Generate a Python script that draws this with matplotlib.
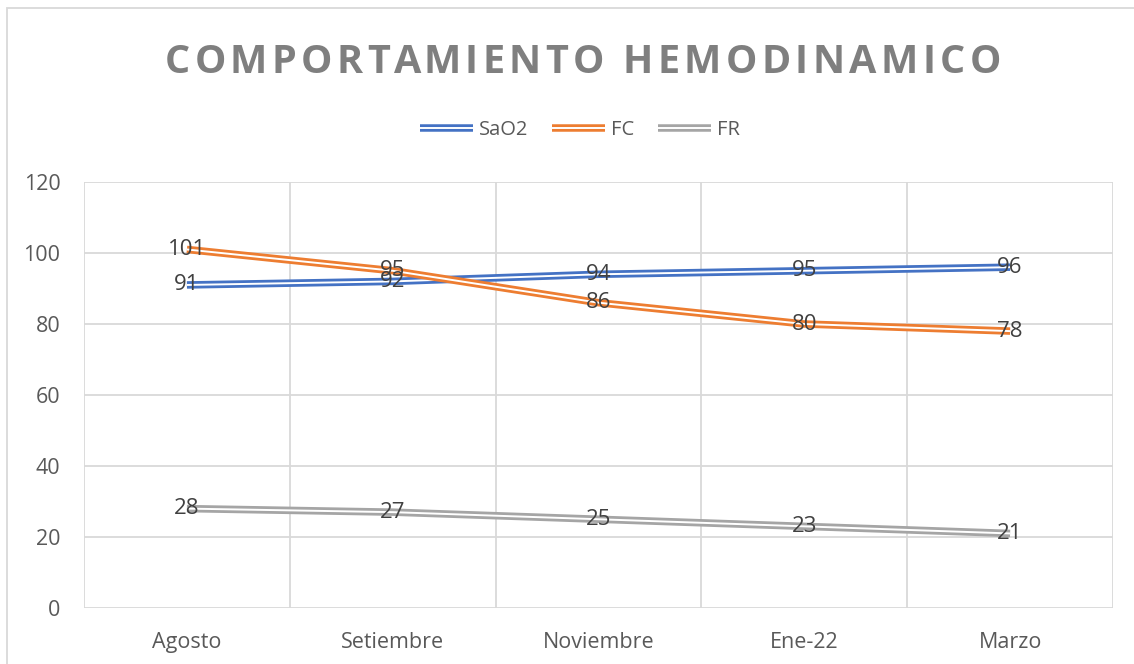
import matplotlib
matplotlib.use("Agg")
import matplotlib.pyplot as plt
import matplotlib.patheffects as pe
from matplotlib.patches import Rectangle
from matplotlib.font_manager import FontProperties

categories = ["Agosto", "Setiembre", "Noviembre", "Ene-22", "Marzo"]
sao2 = [91, 92, 94, 95, 96]
fc = [101, 95, 86, 80, 78]
fr = [28, 27, 25, 23, 21]
series_names = ["SaO2", "FC", "FR"]
colors = ["#4472C4", "#ED7D31", "#A5A5A5"]
title = "COMPORTAMIENTO HEMODINAMICO"

FONT = "Open Sans"
W, H = 1134, 664
fig = plt.figure(figsize=(W / 100, H / 100), dpi=100)
fig.patch.set_facecolor("white")

# chart border
fig.add_artist(Rectangle((7 / W, -0.05), 1.2, 1 - 8 / H + 0.05, transform=fig.transFigure,
                         fill=False, edgecolor="#d9d9d9", lw=1.3))

ax = fig.add_axes([84 / W, (H - 608) / H, (1113 - 84) / W, (608 - 182) / H])
ax.set_xlim(-0.5, len(categories) - 0.5)
ax.set_ylim(0, 120)
for s in ax.spines.values():
    s.set_visible(False)
ax.set_yticks(range(0, 121, 20))
ax.set_xticks(range(len(categories)))
ax.set_xticklabels(categories)
ax.tick_params(axis="both", length=0, labelsize=15.5, labelcolor="#595959")
ax.tick_params(axis="y", pad=17)
ax.tick_params(axis="x", pad=17)
for lbl in ax.get_xticklabels() + ax.get_yticklabels():
    lbl.set_fontfamily(FONT)
for yv in range(0, 121, 20):
    ax.axhline(yv, color="#d9d9d9", lw=1.3, zorder=0)
for xv in [i - 0.5 for i in range(len(categories) + 1)]:
    ax.axvline(xv, color="#d9d9d9", lw=1.3, zorder=0)

x = list(range(len(categories)))
handles = []
for name, vals, c in zip(series_names, [sao2, fc, fr], colors):
    ln, = ax.plot(x, vals, color="white", lw=1.4, label=name, zorder=3,
                  solid_capstyle="butt",
                  path_effects=[pe.Stroke(linewidth=5.4, foreground=c, capstyle="butt"), pe.Normal()])
    handles.append(ln)
    for xi, v in zip(x, vals):
        ax.text(xi, v, str(v), ha="center", va="center", fontsize=16, color="#404040",
                family=FONT, zorder=4)

leg = fig.legend(handles=handles, loc="center", bbox_to_anchor=(580 / W, 1 - 130 / H), ncol=3,
                 frameon=False, handlelength=2.6, handletextpad=0.3, columnspacing=1.2,
                 prop=FontProperties(family=FONT, size=14.5))
for t in leg.get_texts():
    t.set_color("#595959")

# title with letter spacing
renderer = fig.canvas.get_renderer()
tprop = FontProperties(family=FONT, weight="bold", size=28.5)
def tw(s):
    w, h, d = renderer.get_text_width_height_descent(s, tprop, ismath=False)
    return w
wI = tw("I")
full = tw(title)
x0, x1 = 165, 1000
spacing = ((x1 - x0) - full) / (len(title) - 1)
for i, ch in enumerate(title):
    if ch == " ":
        continue
    px = x0 + (tw(title[:i] + "I") - wI if i > 0 else 0) + i * spacing
    fig.text(px / W, 1 - 73 / H, ch, fontproperties=tprop, color="#7f7f7f",
             ha="left", va="baseline")

fig.savefig("out.png", dpi=100)
